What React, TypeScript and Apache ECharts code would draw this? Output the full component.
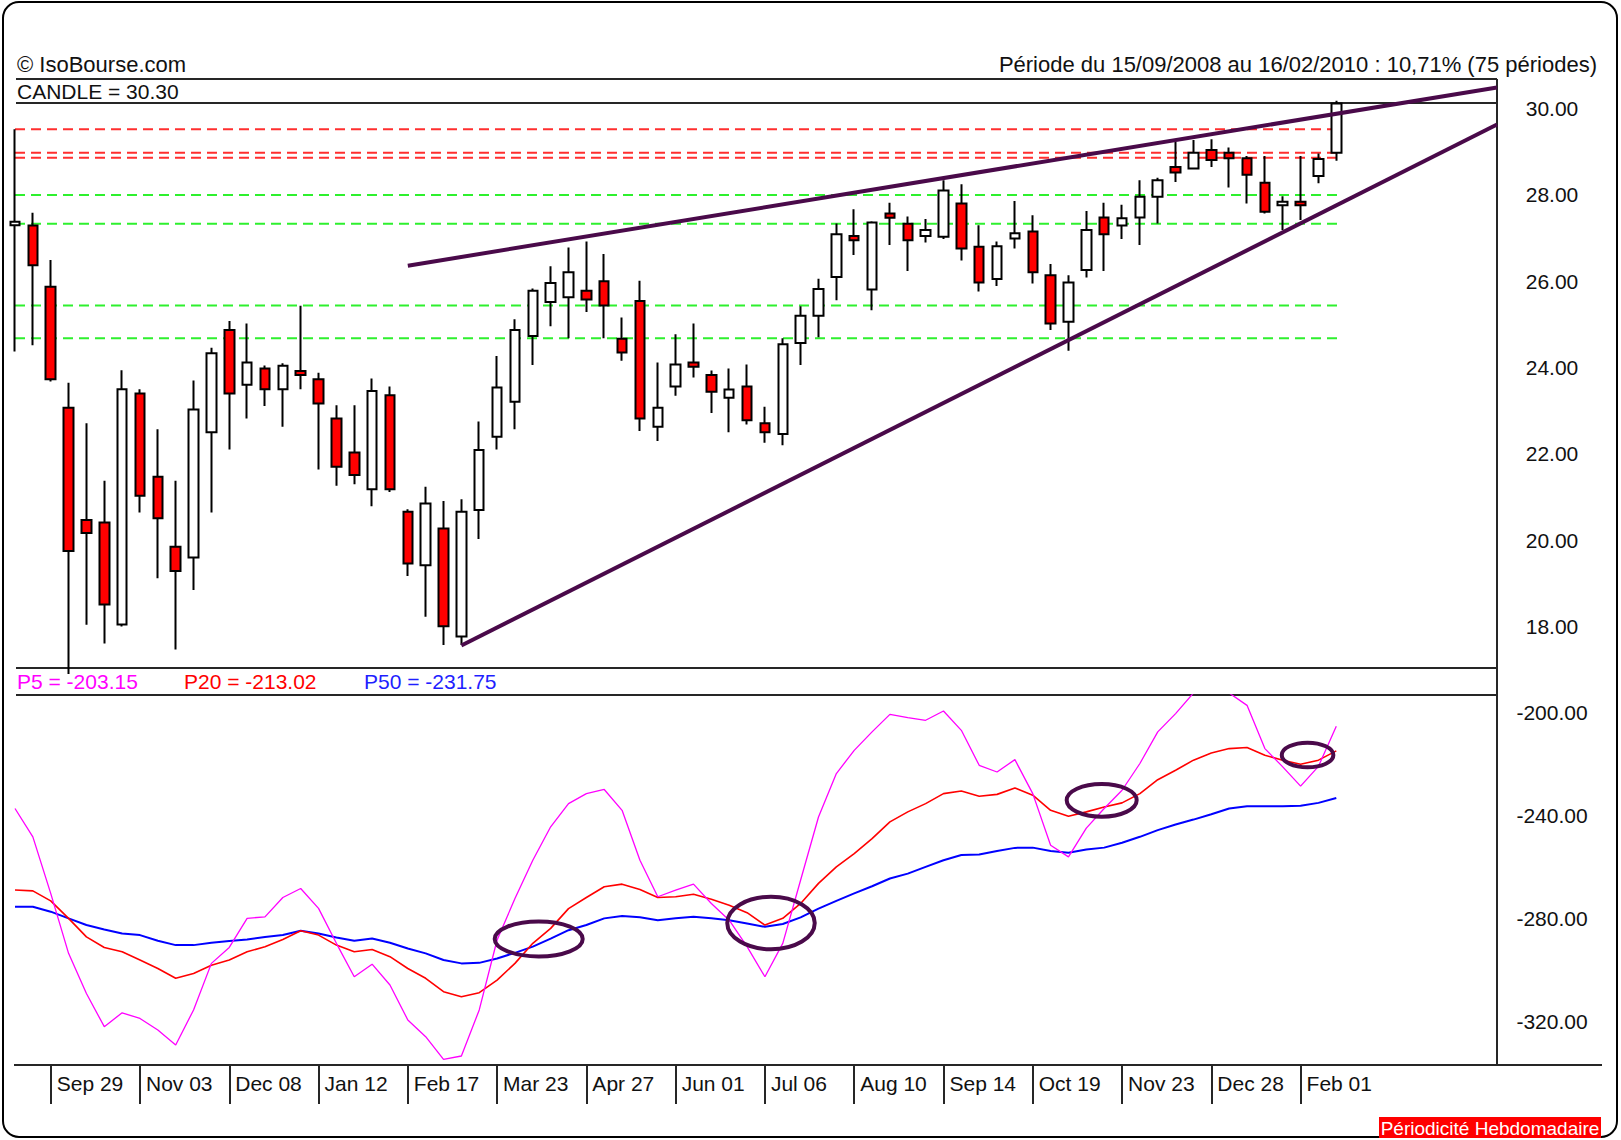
import React, { useEffect, useRef } from 'react';
import * as echarts from 'echarts';

const FONT = '"Liberation Sans", Arial, Helvetica, sans-serif';

// x-axis tick positions (week index) and labels
const tickIdx = [2, 7, 12, 17, 22, 27, 32, 37, 42, 47, 52, 57, 62, 67, 72];
const tickLabels = ['Sep 29', 'Nov 03', 'Dec 08', 'Jan 12', 'Feb 17', 'Mar 23', 'Apr 27', 'Jun 01', 'Jul 06', 'Aug 10', 'Sep 14', 'Oct 19', 'Nov 23', 'Dec 28', 'Feb 01'];

const priceTicks = [18, 20, 22, 24, 26, 28, 30];
const oscTicks = [-320, -280, -240, -200];

// weekly candles, 15/09/2008 .. 15/02/2010
const opens = [
  27.30, 27.29, 25.87, 23.07, 20.47, 20.41, 18.05, 23.40, 21.47, 19.85,
  19.60, 22.50, 24.87, 23.60, 23.98, 23.50, 23.92, 23.73, 22.82, 22.03,
  21.18, 23.36, 20.66, 19.42, 20.27, 17.77, 20.70, 22.40, 23.21, 24.73,
  25.52, 25.63, 25.78, 26.00, 24.67, 25.54, 22.63, 23.56, 24.12, 23.83,
  23.30, 23.56, 22.71, 22.46, 24.57, 25.20, 26.10, 27.05, 25.81, 27.57,
  27.33, 27.05, 27.03, 27.80, 26.80, 26.05, 26.99, 27.15, 26.14, 25.06,
  26.26, 27.48, 27.29, 27.48, 27.96, 28.65, 28.61, 29.04, 28.98, 28.85,
  28.28, 27.76, 27.84, 28.44, 28.98,
];
const closes = [
  27.38, 26.37, 23.73, 19.75, 20.17, 18.51, 23.50, 21.03, 20.51, 19.29,
  23.03, 24.33, 23.40, 24.12, 23.50, 24.04, 23.83, 23.17, 21.70, 21.51,
  23.46, 21.18, 19.46, 20.85, 18.01, 20.66, 22.09, 23.54, 24.87, 25.78,
  25.96, 26.21, 25.58, 25.44, 24.35, 22.82, 23.07, 24.07, 24.02, 23.44,
  23.49, 22.78, 22.50, 24.54, 25.20, 25.82, 27.09, 26.95, 27.36, 27.47,
  26.95, 27.19, 28.10, 26.76, 25.97, 26.81, 27.11, 26.21, 25.02, 25.97,
  27.19, 27.09, 27.46, 27.96, 28.34, 28.52, 28.98, 28.81, 28.85, 28.47,
  27.61, 27.84, 27.76, 28.83, 30.12,
];
const lows = [
  24.37, 24.52, 23.68, 16.90, 18.04, 17.61, 18.00, 20.64, 19.12, 17.47,
  18.85, 20.64, 22.10, 22.82, 23.11, 22.63, 23.50, 21.64, 21.26, 21.30,
  20.79, 21.12, 19.17, 18.23, 17.57, 17.57, 20.03, 22.10, 22.57, 24.06,
  24.96, 24.68, 25.29, 24.68, 24.16, 22.53, 22.30, 23.35, 23.77, 22.95,
  22.50, 22.68, 22.26, 22.20, 24.06, 24.70, 25.56, 26.61, 25.33, 26.84,
  26.24, 26.90, 26.98, 26.48, 25.76, 25.89, 26.76, 25.95, 24.87, 24.39,
  26.09, 26.24, 26.98, 26.84, 27.34, 28.30, 28.61, 28.65, 28.17, 27.80,
  27.57, 27.19, 27.42, 28.27, 28.79,
];
const highs = [
  29.52, 27.59, 26.49, 23.65, 22.71, 21.38, 23.94, 23.50, 22.57, 21.38,
  23.70, 24.46, 25.08, 25.02, 24.05, 24.10, 25.43, 23.88, 23.13, 23.13,
  23.75, 23.56, 20.72, 21.24, 20.91, 20.95, 22.75, 24.27, 25.12, 25.83,
  26.35, 26.78, 26.92, 26.63, 25.16, 26.01, 24.12, 24.77, 25.02, 23.93,
  23.98, 24.07, 23.09, 24.68, 25.42, 26.06, 27.34, 27.67, 27.39, 27.82,
  27.50, 27.44, 28.34, 28.25, 27.30, 26.92, 27.86, 27.53, 26.40, 26.14,
  27.63, 27.82, 27.77, 28.34, 28.40, 29.23, 29.27, 29.29, 29.10, 28.90,
  28.90, 27.97, 28.90, 28.96, 30.18,
];

// oscillators
const p5 = [
  -237.4, -248.4, -270.4, -293.7, -309.3, -322.2, -316.8, -319.0, -323.5, -329.3,
  -315.7, -297.6, -291.4, -280.1, -279.5, -272.0, -268.5, -276.2, -289.8, -302.8,
  -297.9, -306.0, -319.6, -326.1, -334.9, -333.6, -315.7, -288.5, -272.4, -257.5,
  -244.5, -235.5, -231.6, -230.0, -238.1, -257.5, -271.7, -269.1, -266.8, -274.3,
  -280.8, -291.1, -302.8, -289.8, -265.2, -240.7, -223.8, -214.8, -207.6, -200.8,
  -202.1, -203.1, -199.5, -207.0, -220.6, -223.2, -218.4, -231.6, -251.7, -256.2,
  -245.0, -237.4, -230.3, -219.9, -207.6, -200.5, -192.5, -192.5, -192.5, -197.3,
  -214.1, -221.2, -228.7, -221.0, -205.4,
];
const p20 = [
  -269.1, -269.4, -273.3, -280.1, -287.3, -291.4, -293.1, -296.3, -299.6, -303.4,
  -301.5, -298.3, -296.3, -293.1, -291.1, -288.3, -284.9, -286.6, -290.5, -293.1,
  -292.2, -295.0, -299.6, -303.4, -308.6, -310.6, -309.0, -304.1, -297.6, -289.8,
  -284.0, -276.3, -272.0, -267.8, -266.8, -268.9, -272.0, -271.7, -270.7, -272.7,
  -275.0, -277.9, -282.7, -280.1, -274.3, -266.5, -260.1, -254.9, -249.1, -242.6,
  -238.7, -235.5, -231.6, -230.6, -232.6, -231.9, -229.4, -232.2, -238.1, -240.4,
  -238.7, -236.8, -235.2, -231.6, -226.2, -222.5, -218.6, -215.8, -214.1, -213.7,
  -216.7, -218.6, -220.2, -218.6, -215.0,
];
const p50 = [
  -275.6, -275.6, -277.5, -280.1, -282.7, -284.4, -286.0, -286.6, -288.8, -290.5,
  -290.5, -289.6, -288.9, -288.3, -287.3, -286.6, -284.9, -286.0, -287.5, -288.8,
  -287.9, -289.6, -291.8, -293.7, -296.3, -297.6, -297.4, -295.7, -293.5, -291.1,
  -288.0, -284.7, -282.7, -280.1, -279.2, -279.7, -280.8, -280.1, -279.5, -280.1,
  -280.8, -282.1, -283.4, -282.3, -279.7, -276.3, -273.3, -270.4, -267.6, -264.6,
  -262.7, -260.1, -257.5, -255.5, -255.3, -253.9, -252.7, -252.6, -253.9, -254.6,
  -253.3, -252.6, -250.7, -248.4, -245.8, -243.6, -241.7, -239.6, -237.4, -236.5,
  -236.5, -236.5, -236.3, -235.2, -233.3,
];

// horizontal levels (dashed)
const resistanceLevels = [29.52, 28.98, 28.86];
const supportLevels = [28.0, 27.33, 25.44, 24.68];
const levelEnd = 74.2;

// trend lines [x, price]
const upperTrend = [[22, 26.36], [83, 30.49]];
const lowerTrend = [[25, 17.56], [83, 29.63]];

// crossing annotations: [centre x, centre value, width (weeks), height (points)]
const crossEllipses = [
  [29.33, -288.1, 4.93, 13.6],
  [42.34, -281.9, 4.9, 20.4],
  [60.86, -234.2, 3.92, 12.7],
  [72.39, -216.6, 2.89, 9.6],
];

const PURPLE = '#4a0a4a';
const LINE = '#262626';

function hline(y: number, x1: number, x2: number) {
  return { type: 'line', silent: true, shape: { x1, y1: y, x2, y2: y }, style: { stroke: LINE, lineWidth: 2 } };
}
function txt(text: string, x: number, y: number, fill: string, size: number, align = 'left') {
  return {
    type: 'text', silent: true, x, y,
    style: { text, fill, fontSize: size, fontFamily: FONT, align, verticalAlign: 'middle' },
  };
}

export default function App() {
  const ref = useRef<HTMLDivElement>(null);

  useEffect(() => {
    if (!ref.current) return;
    const chart = echarts.init(ref.current, null, { renderer: 'svg' });

    const candles = opens.map((o, i) => [i, o, closes[i], lows[i], highs[i]]);
    const levelSeries = [
      ...resistanceLevels.map((v) => ({ v, c: '#ff2f2f' })),
      ...supportLevels.map((v) => ({ v, c: '#2ef02e' })),
    ].map(({ v, c }) => ({
      type: 'line', xAxisIndex: 0, yAxisIndex: 0, symbol: 'none', silent: true, z: 2,
      data: [[0, v], [levelEnd, v]],
      lineStyle: { color: c, width: 2, type: [10, 6] },
    }));

    const oscLine = (data: number[], color: string, width: number) => ({
      type: 'line', xAxisIndex: 1, yAxisIndex: 1, symbol: 'none', silent: true, z: 3,
      data: data.map((v, i) => [i, v]),
      lineStyle: { color, width },
    });

    const axisLabelBase = { fontSize: 21, fontFamily: FONT, color: '#111' };

    chart.setOption({
      animation: false,
      backgroundColor: '#ffffff',
      grid: [
        { left: 15, right: 124, top: 103, height: 565, outerBoundsMode: 'none' },
        { left: 15, right: 124, top: 695, height: 370, outerBoundsMode: 'none' },
      ],
      xAxis: [
        { type: 'value', gridIndex: 0, min: 0, max: 83, show: false },
        {
          type: 'value', gridIndex: 1, min: 0, max: 83,
          axisLine: { show: false },
          splitLine: { show: false },
          axisTick: { show: true, customValues: tickIdx, length: 39, lineStyle: { color: LINE, width: 2 } },
          axisLabel: {
            ...axisLabelBase,
            customValues: tickIdx,
            formatter: (v: number) => {
              const k = tickIdx.indexOf(Math.round(v));
              return k >= 0 ? tickLabels[k] : '';
            },
            align: 'left',
            padding: [0, 0, 0, 6],
            margin: 8,
          },
        },
      ],
      yAxis: [
        {
          type: 'value', gridIndex: 0, position: 'right', min: 17.04, max: 30.13,
          axisLine: { show: false }, axisTick: { show: false }, splitLine: { show: false },
          axisLabel: { ...axisLabelBase, customValues: priceTicks, formatter: (v: number) => v.toFixed(2), align: 'center', margin: 55 },
        },
        {
          type: 'value', gridIndex: 1, position: 'right', min: -337.1, max: -193.27,
          axisLine: { show: false }, axisTick: { show: false }, splitLine: { show: false },
          axisLabel: { ...axisLabelBase, customValues: oscTicks, formatter: (v: number) => v.toFixed(2), align: 'center', margin: 55 },
        },
      ],
      series: [
        ...levelSeries,
        {
          type: 'candlestick', xAxisIndex: 0, yAxisIndex: 0, silent: true, z: 3,
          data: candles,
          encode: { x: 0, y: [1, 2, 3, 4] },
          barWidth: 10,
          itemStyle: { color: '#ffffff', color0: '#ff0000', borderColor: '#000000', borderColor0: '#000000', borderWidth: 2 },
        },
        {
          type: 'line', xAxisIndex: 0, yAxisIndex: 0, symbol: 'none', silent: true, clip: false, z: 4,
          data: upperTrend, lineStyle: { color: PURPLE, width: 4 },
        },
        {
          type: 'line', xAxisIndex: 0, yAxisIndex: 0, symbol: 'none', silent: true, clip: false, z: 4,
          data: lowerTrend, lineStyle: { color: PURPLE, width: 4 },
        },
        oscLine(p50, '#0000ff', 2),
        oscLine(p20, '#ff0000', 1.6),
        oscLine(p5, '#ff00ff', 1.3),
        {
          type: 'custom', xAxisIndex: 1, yAxisIndex: 1, silent: true, z: 5,
          data: crossEllipses,
          renderItem: (_p: any, api: any) => {
            const c = api.coord([api.value(0), api.value(1)]);
            const s = api.size([api.value(2), api.value(3)]);
            return {
              type: 'ellipse',
              shape: { cx: c[0], cy: c[1], rx: s[0] / 2, ry: s[1] / 2 },
              style: { fill: 'none', stroke: PURPLE, lineWidth: 4 },
            };
          },
        },
      ],
      graphic: [
        { type: 'rect', silent: true, shape: { x: 3, y: 2, width: 1614, height: 1135, r: 16 }, style: { fill: 'none', stroke: '#000', lineWidth: 2 } },
        hline(79, 16, 1497),
        hline(103, 16, 1497),
        hline(668, 16, 1497),
        hline(695, 16, 1497),
        hline(1065, 14, 1602),
        { type: 'line', silent: true, shape: { x1: 1497, y1: 79, x2: 1497, y2: 1065 }, style: { stroke: LINE, lineWidth: 2 } },
        txt('© IsoBourse.com', 17, 64, '#111', 22),
        txt('Période du 15/09/2008 au 16/02/2010 : 10,71% (75 périodes)', 1597, 64, '#111', 22, 'right'),
        txt('CANDLE = 30.30', 17, 91, '#111', 21),
        txt('P5 = -203.15', 17, 681, '#ff00ff', 21),
        txt('P20 = -213.02', 184, 681, '#ff0000', 21),
        txt('P50 = -231.75', 364, 681, '#1f1fff', 21),
        { type: 'rect', silent: true, shape: { x: 1379, y: 1117, width: 222, height: 21 }, style: { fill: '#ff0000' } },
        txt('Périodicité Hebdomadaire', 1490, 1128, '#ffffff', 19, 'center'),
      ],
    });

    return () => chart.dispose();
  }, []);

  return (
    <div
      ref={ref}
      style={{ position: 'fixed', left: 0, top: 0, width: 1621, height: 1140, background: '#fff' }}
    />
  );
}
